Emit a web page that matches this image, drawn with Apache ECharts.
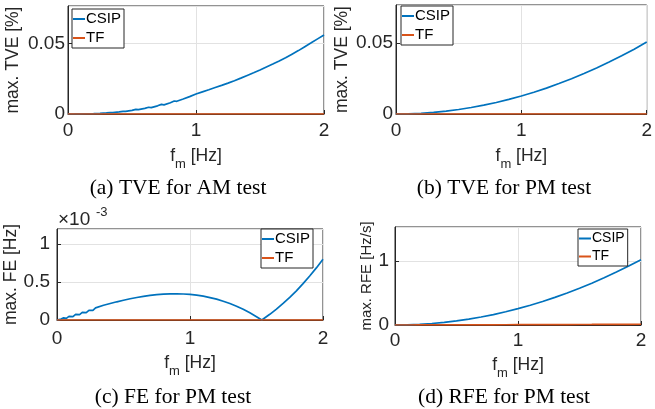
<!DOCTYPE html>
<html><head><meta charset="utf-8">
<script src="https://cdn.jsdelivr.net/npm/echarts@6/dist/echarts.min.js"></script>
<style>html,body{margin:0;padding:0;background:#fff}#c{width:655px;height:409px}</style>
</head><body><div id="c"></div>
<script>
// ---------- data ----------
const xTicks = [0, 1, 2];
const fmSmooth = [0,0.1,0.2,0.3,0.4,0.5,0.6,0.7,0.8,0.9,1.0,1.1,1.2,1.3,1.4,1.5,1.6,1.7,1.8,1.9,2.0];

// (a) TVE for AM test [%]
const fmA = [0,0.05,0.1,0.15,0.2,0.25,0.3,0.33,0.35,0.4,0.43,0.45,0.5,0.53,0.55,0.6,0.63,0.65,0.7,0.73,0.75,0.8,0.83,0.85,0.9,0.95,
  1.0,1.05,1.1,1.15,1.2,1.25,1.3,1.35,1.4,1.45,1.5,1.55,1.6,1.65,1.7,1.75,1.8,1.85,1.9,1.95,2.0];
const tveAM_CSIP = [0,0.00002,0.00008,0.00018,0.00032,0.0005,0.00078,0.00108,0.00098,0.0015,0.00192,0.00182,0.0026,0.0033,0.0031,0.0040,0.0048,0.0045,0.0058,0.0068,0.0065,0.0080,0.0092,0.0090,0.0106,0.0123,
  0.0142,0.0157,0.0172,0.0188,0.0203,0.0219,0.0236,0.0254,0.0273,0.0292,0.0312,0.0333,0.0354,0.0376,0.0399,0.0424,0.0449,0.0477,0.0504,0.0532,0.0560];
const tveAM_TF = [0,0,0,0,0,0,0,0,0,0,0,0,0,0,0,0,0,0,0,0,0];

// (b) TVE for PM test [%]
const tvePM_CSIP = [0,0.00013,0.00051,0.00114,0.00203,0.00318,0.00457,0.00622,0.00813,0.0103,0.0127,0.0154,0.0183,0.0215,0.0249,0.0286,0.0325,0.0367,0.0411,0.0458,0.0508];
const tvePM_TF = [0,0,0,0,0,0,0,0,0,0,0,0,0,0,0,0,0,0,0,0,0];

// (c) FE for PM test [x10^-3 Hz]
const fmC = [0,0.03,0.05,0.07,0.09,0.1,0.12,0.14,0.15,0.17,0.19,0.2,0.22,0.24,0.25,0.27,0.29,0.3,0.35,0.4,0.45,0.5,0.55,0.6,0.65,0.7,0.75,0.8,0.85,0.9,0.95,
  1.0,1.05,1.1,1.15,1.2,1.25,1.3,1.35,1.4,1.45,1.5,1.54,1.55,1.6,1.65,1.7,1.75,1.8,1.85,1.9,1.95,2.0];
const fePM_CSIP = [0,0.012,0.028,0.022,0.048,0.055,0.045,0.075,0.082,0.072,0.100,0.108,0.098,0.128,0.135,0.128,0.160,0.168,0.194,0.218,0.240,0.261,0.280,0.297,0.311,0.324,0.334,0.341,0.345,0.345,0.343,
  0.337,0.327,0.314,0.296,0.275,0.248,0.217,0.182,0.141,0.095,0.044,0.0,0.012,0.075,0.143,0.218,0.298,0.385,0.479,0.580,0.687,0.802];
const fePM_TF = [0,0,0,0,0,0,0,0,0,0,0,0,0,0,0,0,0,0,0,0,0];

// (d) RFE for PM test [Hz/s]
const rfePM_CSIP = [0,0.0026,0.0102,0.023,0.041,0.064,0.092,0.125,0.163,0.207,0.255,0.309,0.367,0.431,0.500,0.574,0.653,0.737,0.826,0.921,1.02];
const rfePM_TF = [0,0.0003,0.0006,0.001,0.0015,0.002,0.0025,0.003,0.0035,0.004,0.0045,0.005,0.0056,0.0062,0.0068,0.0075,0.0082,0.009,0.0098,0.0106,0.0115];

const seriesNames = ['CSIP', 'TF'];
const captions = ['(a) TVE for AM test', '(b) TVE for PM test', '(c) FE for PM test', '(d) RFE for PM test'];
const yNames = ['max. TVE [%]', 'max. TVE [%]', 'max. FE [Hz]', 'max. RFE [Hz/s]'];

// ---------- styling ----------
const SANS = '"Liberation Sans", Arial, Helvetica, sans-serif';
const SERIF = '"Liberation Serif", "Times New Roman", serif';
const AX = '#262626';
const GRIDC = '#e2e2e2';
const BLUE = '#0072BD';
const ORANGE = '#D95319';

const grids = [
  {left: 68, top: 6, width: 256, height: 108},
  {left: 396, top: 5, width: 255, height: 109},
  {left: 57, top: 229, width: 266, height: 91},
  {left: 395, top: 227, width: 246, height: 98}
];
const yCfg = [
  {max: 0.0765, interval: 0.05, margin: 3, gap: 46, nameSize: 17.5},
  {max: 0.0770, interval: 0.05, margin: 3, gap: 45, nameSize: 17.5},
  {max: 1.2, interval: 0.5, margin: 7, gap: 32, nameSize: 17.5},
  {max: 1.53, interval: 1, margin: 6, gap: 19, nameSize: 15}
];
const xCfg = [
  {margin: 7, gap: 28}, {margin: 7, gap: 28}, {margin: 9, gap: 29}, {margin: 6, gap: 26}
];
const legendPos = [
  {left: 72, top: 9, size: 15}, {left: 401, top: 6, size: 15},
  {left: 261, top: 229, size: 15}, {left: 578, top: 229, size: 14}
];

function xAxis(i) {
  return {
    type: 'value', gridIndex: i, min: 0, max: 2, interval: 1,
    axisLine: {show: true, onZero: false, lineStyle: {color: AX, width: 1}},
    axisTick: {show: true, inside: true, length: 4, lineStyle: {color: AX}},
    axisLabel: {margin: xCfg[i].margin, fontSize: 19, color: AX, fontFamily: SANS,
      formatter: v => String(v)},
    splitLine: {show: true, lineStyle: {color: GRIDC, width: 1}},
    name: '{f|f}{m|m}{h| [Hz]}', nameLocation: 'middle', nameGap: xCfg[i].gap,
    nameTextStyle: {color: AX, rich: {
      f: {fontSize: 17.5, fontFamily: SANS, color: AX},
      m: {fontSize: 13, fontFamily: SANS, color: AX, padding: [16, 0, 0, 0]},
      h: {fontSize: 17.5, fontFamily: SANS, color: AX}
    }}
  };
}
function yAxis(i) {
  const c = yCfg[i];
  return {
    type: 'value', gridIndex: i, min: 0, max: c.max, interval: c.interval,
    axisLine: {show: true, onZero: false, lineStyle: {color: AX, width: 1}},
    axisTick: {show: true, inside: true, length: 4, lineStyle: {color: AX}},
    axisLabel: {margin: c.margin, fontSize: 19, color: AX, fontFamily: SANS, showMaxLabel: false,
      formatter: v => String(+v.toFixed(3))},
    splitLine: {show: true, lineStyle: {color: GRIDC, width: 1}},
    name: yNames[i], nameLocation: 'middle', nameGap: c.gap,
    nameTextStyle: {fontSize: c.nameSize, fontFamily: SANS, color: AX}
  };
}
function pairs(xs, ys) { return ys.map((v, k) => [xs[k], v]); }
function line(name, i, data, color) {
  return {
    type: 'line', name, xAxisIndex: i, yAxisIndex: i, data,
    showSymbol: false, symbol: 'none', smooth: false,
    lineStyle: {color, width: 1.7}, itemStyle: {color}, animation: false
  };
}
function legend(i) {
  const p = legendPos[i];
  return {
    data: seriesNames, orient: 'vertical', left: p.left, top: p.top,
    icon: 'rect', itemWidth: 12, itemHeight: 2, itemGap: 1,
    padding: [1, 3, 1, 1], backgroundColor: '#fff', borderColor: AX, borderWidth: 1,
    selectedMode: false,
    textStyle: {fontSize: p.size, fontFamily: SANS, color: '#000', lineHeight: p.size + 3, padding: [0, 0, 0, -4]}
  };
}
const capPos = [[178, 188], [504, 188], [173, 397], [504, 397]];

const option = {
  backgroundColor: '#fff',
  animation: false,
  grid: grids.map(g => Object.assign({show: true, borderColor: AX, borderWidth: 1, backgroundColor: 'transparent'}, g)),
  xAxis: [0, 1, 2, 3].map(xAxis),
  yAxis: [0, 1, 2, 3].map(yAxis),
  legend: [0, 1, 2, 3].map(legend),
  series: [
    line('CSIP', 0, pairs(fmA, tveAM_CSIP), BLUE),
    line('TF', 0, pairs(fmSmooth, tveAM_TF), ORANGE),
    line('CSIP', 1, pairs(fmSmooth, tvePM_CSIP), BLUE),
    line('TF', 1, pairs(fmSmooth, tvePM_TF), ORANGE),
    line('CSIP', 2, pairs(fmC, fePM_CSIP), BLUE),
    line('TF', 2, pairs(fmSmooth, fePM_TF), ORANGE),
    line('CSIP', 3, pairs(fmSmooth, rfePM_CSIP), BLUE),
    line('TF', 3, pairs(fmSmooth, rfePM_TF), ORANGE)
  ],
  graphic: captions.map((t, k) => ({
    type: 'text', x: capPos[k][0], y: capPos[k][1],
    style: {text: t, font: '21.5px ' + SERIF, fill: '#000', textAlign: 'center', textVerticalAlign: 'middle'}
  })).concat([
    {type: 'text', x: 58, y: 220, style: {text: '×10', font: '19px ' + SANS, fill: AX, textAlign: 'left', textVerticalAlign: 'middle'}},
    {type: 'text', x: 96, y: 212, style: {text: '-3', font: '13px ' + SANS, fill: AX, textAlign: 'left', textVerticalAlign: 'middle'}}
  ])
};
const chart = echarts.init(document.getElementById('c'), null, {renderer: 'canvas'});
chart.setOption(option);
</script>
</body></html>
